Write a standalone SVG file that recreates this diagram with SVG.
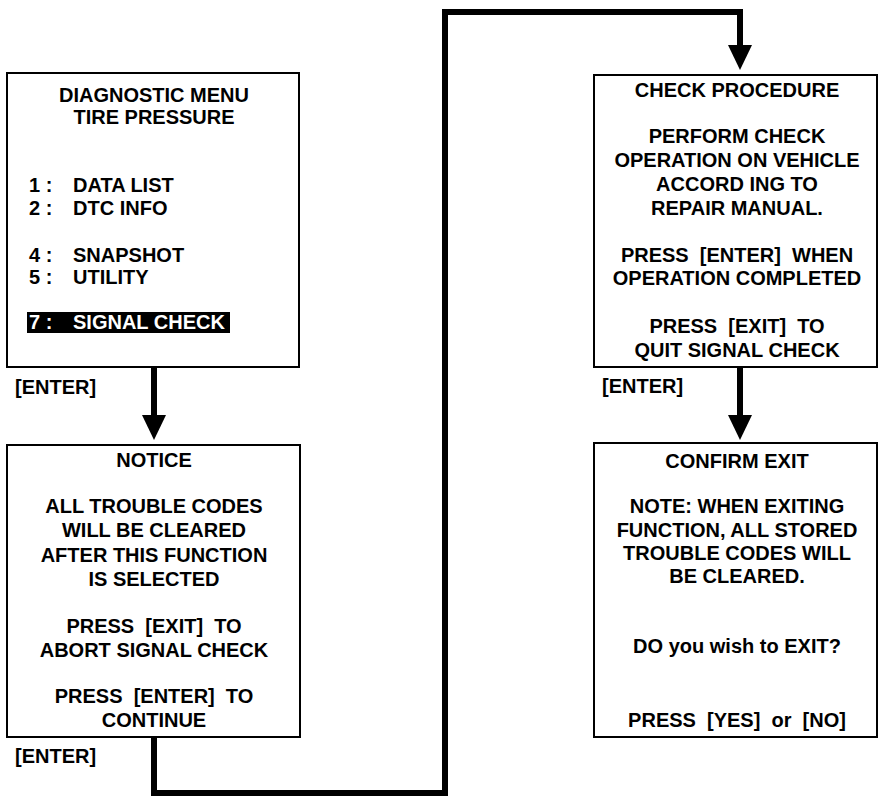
<svg xmlns="http://www.w3.org/2000/svg" width="879" height="798" viewBox="0 0 879 798">
<style>
.box{fill:#fff;stroke:#000;stroke-width:2}
text{font-family:"Liberation Sans",Arial,sans-serif;font-weight:bold;font-size:20px;fill:#000}
.c{text-anchor:middle}
.w{fill:#fff}
.ln{fill:none;stroke:#000;stroke-width:6;stroke-linejoin:miter}
.ah{fill:#000}
</style>
<rect width="879" height="798" fill="#fff"/>
<g id="connectors">
<line class="ln" x1="154" y1="367" x2="154" y2="417"/>
<polygon class="ah" points="142,415 166,415 154,440"/>
<polyline class="ln" points="154,737 154,793 445,793 445,12 740,12 740,47"/>
<polygon class="ah" points="728,45 752,45 740,70"/>
<line class="ln" x1="740" y1="367" x2="740" y2="417"/>
<polygon class="ah" points="728,415 752,415 740,440"/>
</g>
<g id="menu">
<rect class="box" x="7" y="73" width="292" height="294"/>
<text class="c" x="154" y="102">DIAGNOSTIC MENU</text>
<text class="c" x="154" y="124">TIRE PRESSURE</text>
<text x="29" y="192">1 :</text><text x="73" y="192">DATA LIST</text>
<text x="29" y="215">2 :</text><text x="73" y="215">DTC INFO</text>
<text x="29" y="262">4 :</text><text x="73" y="262">SNAPSHOT</text>
<text x="29" y="284">5 :</text><text x="73" y="284">UTILITY</text>
<rect x="27" y="312" width="203" height="21" fill="#000"/>
<text class="w" x="29" y="329">7 :</text><text class="w" x="73" y="329">SIGNAL CHECK</text>
</g>
<g id="label-enter-1"><text x="15" y="394">[ENTER]</text></g>
<g id="notice">
<rect class="box" x="7" y="445" width="293" height="292"/>
<text class="c" x="154" y="467">NOTICE</text>
<text class="c" x="154" y="513">ALL TROUBLE CODES</text>
<text class="c" x="154" y="537">WILL BE CLEARED</text>
<text class="c" x="154" y="562">AFTER THIS FUNCTION</text>
<text class="c" x="154" y="586">IS SELECTED</text>
<text class="c" x="154" y="633">PRESS &#160;[EXIT] &#160;TO</text>
<text class="c" x="154" y="657">ABORT SIGNAL CHECK</text>
<text class="c" x="154" y="703">PRESS &#160;[ENTER] &#160;TO</text>
<text class="c" x="154" y="727">CONTINUE</text>
</g>
<g id="label-enter-2"><text x="15" y="763">[ENTER]</text></g>
<g id="check-procedure">
<rect class="box" x="594" y="75" width="283" height="292"/>
<text class="c" x="737" y="97">CHECK PROCEDURE</text>
<text class="c" x="737" y="143">PERFORM CHECK</text>
<text class="c" x="737" y="167">OPERATION ON VEHICLE</text>
<text class="c" x="737" y="191">ACCORD ING TO</text>
<text class="c" x="737" y="215">REPAIR MANUAL.</text>
<text class="c" x="737" y="262">PRESS &#160;[ENTER] &#160;WHEN</text>
<text class="c" x="737" y="285">OPERATION COMPLETED</text>
<text class="c" x="737" y="333">PRESS &#160;[EXIT] &#160;TO</text>
<text class="c" x="737" y="357">QUIT SIGNAL CHECK</text>
</g>
<g id="label-enter-3"><text x="602" y="393">[ENTER]</text></g>
<g id="confirm-exit">
<rect class="box" x="594" y="443" width="283" height="294"/>
<text class="c" x="737" y="468">CONFIRM EXIT</text>
<text class="c" x="737" y="513">NOTE: WHEN EXITING</text>
<text class="c" x="737" y="537">FUNCTION, ALL STORED</text>
<text class="c" x="737" y="560">TROUBLE CODES WILL</text>
<text class="c" x="737" y="583">BE CLEARED.</text>
<text class="c" x="737" y="653">DO you wish to EXIT?</text>
<text class="c" x="737" y="727">PRESS &#160;[YES] &#160;or &#160;[NO]</text>
</g>
</svg>
